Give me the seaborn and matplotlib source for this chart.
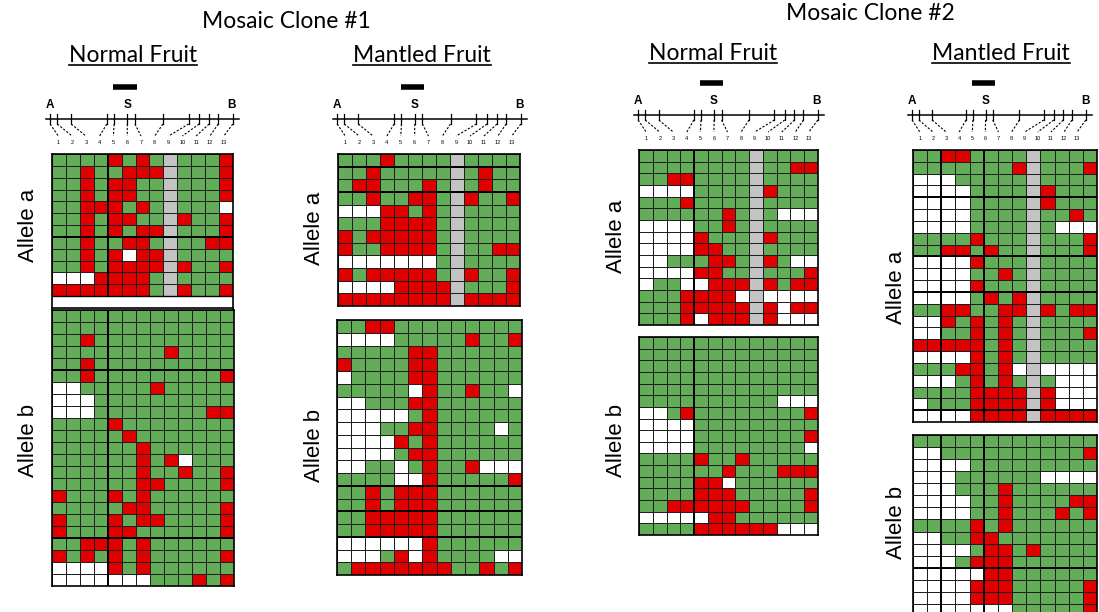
import numpy as np
import matplotlib
matplotlib.use('Agg')
import matplotlib.pyplot as plt
from matplotlib.colors import ListedColormap
from matplotlib.lines import Line2D
import seaborn as sns

# Bisulfite clone data, one string per clone, one letter per CpG site (1..13)
# G = unmethylated, R = methylated, W = no data, X = site not analysed
clone1_normal_a = [
    "GGGGRGRGXGGGR", "GGRGGRRRXGGGR", "GGRGRRGGXGGGR", "GGRGRRGGXGGGR",
    "GGRRRGRGXGGGW", "GGRGRRGGXRGGR", "GGRGRGRRXGGGR", "GGRGGRRGXGGRR",
    "GGRGRWRRXGGGG", "GGRGRRRRXRGGR", "WWWRRRRGXGGGG", "RRRRRRRGXRGGR",
]
clone1_normal_b = [
    "GGGGGGGGGGGGG", "GGGGGGGGGGGGG", "GGRGGGGGGGGGG", "GGGGGGGGRGGGG",
    "GGRGGGGGGGGGG", "GGRGGGGGGGGGR", "WWGGGGGRGGGGG", "WWWGGGGGGGGGG",
    "WWWGGGGGGGGRR", "GGGGRGGGGGGGG", "GGGGGRGGGGGGG", "GGGGGGRGGGGGG",
    "GGGGGGRGRWGGG", "GGGGGGRGGRGGR", "GGGGGGRRGGGGR", "RGGGRGRGGGGGG",
    "GGGGGRRGGGGGR", "RGGGRGRRGGGGR", "RGGGRRGGGGGGR", "GGRRRGRGGGGGG",
    "RGRGRGRGGGGGR", "WWWWRGRGGGGGG", "WWWWWWWGGGRGR",
]
clone1_mantled_a = [
    "GGGRGGGGXGGGG", "GGRGGGGGXGRGG", "GRRGGGRGXGRGG", "GGRGGRRGXRGGR",
    "WWWRRGRGXGGGG", "GGGRRRRGXGGGG", "RGRRRRRGXGGGG", "RGGRRRRGXGGRR",
    "WWWWWWWGXGGGG", "RGRRRRRGXRGGR", "WWWWRRRRXGGGR", "RRRRRRRRXRRRR",
]
clone1_mantled_b = [
    "GGRRGGGGGGGGG", "WWWWGGGGGRGGR", "GGGGGRRGGGGGG", "RGGGGRRGGGGGG",
    "WGGGGRRGGGGGG", "GGGGGWRGGRGGW", "WWGGGRRGGGGGG", "WWWWWGRGGGGGG",
    "WWWGGRRGGGGWG", "WWWWRGRGGGGGG", "WWWWGRRGGGGGG", "WWGGWGRGGRWWW",
    "GGGGWWRGGGGGR", "GGRGRRRGGGGGG", "GGRGRRRGGGGGG", "GGRRRRRGGGGGG",
    "GGRRRRRGGGGGG", "WWWWWWRGGGGGG", "WWWGRWRGGGGWW", "GRRRRRRRGGRGR",
]
clone2_normal_a = [
    "GGGGGGGGXGGGG", "GGGGGGGGXGGRR", "GGRRGGGGXGGGG", "WWWWGGGGXRGGG",
    "GGGRGGGGXGGGG", "GGGGGGRGXGWWW", "WWWWGGRGXGGGG", "WWWWRGGGXRGGG",
    "WWWWRRGGXGGGG", "WWGGGRRGXRGWW", "WWWWRRGGXGGGR", "WGGWWRRRXRGRR",
    "GGGRRRRWXWWWW", "GGGRRRRRXRWRR", "GGGRWRRRXRWWW",
]
clone2_normal_b = [
    "GGGGGGGGGGGGG", "GGGGGGGGGGGGG", "GGGGGGGGGGGGG", "GGGGGGGGGGGGG",
    "GGGGGGGGGGGGG", "GGGGGGGGGGWWW", "WWGRGGGGGGGGR", "WWWWGGGGGGGGG",
    "WWWWGGGGGGGGR", "WWWWGGGGGGGGW", "GGGGRGGRGGGGG", "GGGGGGRGGGRRR",
    "GGGGRRWGGGGGG", "GGGGRRRGGGGGR", "GGRRRRRRGGGGR", "WWWWWRRGGGGGG",
    "GGGGRRRRRRWWW",
]
clone2_mantled_a = [
    "GGRRGGGGXGGGG", "GGGGGGGRXGGGR", "WWWGGGGGXGGGG", "WWWWGGGGXRGGG",
    "WWWWGGGGXRGGG", "WWWWGGGGXGGRG", "WWWWGGGGXGWWW", "GGGGRGGGXGGGR",
    "GGRRGRGGXGGGR", "WWWWRGGGXGGGG", "WWWWGGRGXGGGG", "WWWWRGGGXGGGG",
    "WWWWGRGRXGGGG", "GGRRGGRRXRGRR", "WWRGRGRGXGGGG", "WWGGRGRGXGGGR",
    "RRRRRGRGXGGGG", "WWWWRGRGXGGGG", "GGGRRGRWXWWWW", "WWWGRGRGXGWWW",
    "GGGGRRRRXRWWW", "WGGGRRRRXRWWW", "WWWWRRRRXRRRR",
]
clone2_mantled_b = [
    "GGGGGGGGGGGGG", "WWGGGGGGGGGGR", "WWWWGGGGGGGGG", "WWWGGGGGGWWWW",
    "WWWGGGRGGGGGG", "WWWWGGRGGGGRR", "WWWWGGRGGGRGR", "GGGGRGRGGGGGG",
    "WWGGRRGGGGGGG", "WWWWGRRGRGGGG", "WWWGRRRGGGGGG", "WWWWWRRGGGGGG",
    "WWWWRRRGGGGGR", "WWWWRRRGGGGGR", "WWWWWWWGGGGGR",
]

# CpG map above each panel (positions in column units)
site_labels = [str(i) for i in range(1, 14)]
site_pos = [-0.19, 0.33, 1.34, 3.92, 4.45, 5.41, 5.96, 7.99, 9.86, 10.62, 11.34, 12.0, 13.06]
landmarks = ["A", "S", "B"]
landmark_pos = [-0.2, 5.4, 13.0]
probe_span = [4.4, 6.1]

code = {"G": 0, "R": 1, "W": 2, "X": 3}
cmap = ListedColormap(["#63ad58", "#e00000", "#ffffff", "#c3c3c3"])

W, H = 1099, 612
fig = plt.figure(figsize=(W / 100, H / 100), dpi=100)
fig.patch.set_facecolor("white")


def px_axes(x0, y0, x1, y1):
    # axes from pixel box (origin top-left)
    return fig.add_axes([x0 / W, 1 - y1 / H, (x1 - x0) / W, (y1 - y0) / H])


def to_matrix(rows):
    return np.array([[code[c] for c in r] for r in rows])


def draw_grid(rows, box, hsep=(), vsep=(), extra_rows=0):
    ax = px_axes(*box)
    mat = to_matrix(rows)
    n = len(rows)
    sns.heatmap(mat, cmap=cmap, vmin=-0.5, vmax=3.5, cbar=False,
                linewidths=0.6, linecolor="#1e1e1e", xticklabels=False,
                yticklabels=False, ax=ax)
    ax.set_ylim(n + extra_rows, 0)
    if hsep:
        ax.hlines(hsep, 0, 13, color="black", lw=1.4)
    if vsep:
        ax.vlines(vsep, 0, n, color="black", lw=1.4)
    if extra_rows:
        ax.axhline(n, color="black", lw=1.0)
    for s in ax.spines.values():
        s.set_visible(True)
        s.set_color("black")
        s.set_linewidth(1.2)
    return ax


def draw_map(ax_px, bx_px, top):
    # gene map: landmarks, CpG ticks, dashed leaders and site numbers
    s = (bx_px - ax_px) / 13.2
    ax = px_axes(ax_px - 0.8 * s, top - 75, bx_px + 1.0 * s, top)
    ax.set_xlim(-1, 14)
    ax.set_ylim(0, 75)
    ax.axis("off")
    ax.plot([-0.5, 13.5], [35, 35], color="black", lw=1.1)
    ax.plot(probe_span, [67, 67], color="black", lw=4, solid_capstyle="butt")
    for lab, p in zip(landmarks, landmark_pos):
        ax.text(p, 49, lab, ha="center", va="center", fontsize=8.5,
                fontweight="bold", family="Liberation Sans")
    for i, (lab, p) in enumerate(zip(site_labels, site_pos)):
        ax.plot([p, p], [30, 40], color="black", lw=0.9)
        ax.plot([p, i + 0.4], [30, 18], color="black", lw=0.8, ls=(0, (2, 1.5)))
        ax.text(i + 0.4, 12, lab, ha="center", va="center", fontsize=4,
                family="Liberation Sans")


panels = [
    (clone1_normal_a, (52, 154, 233, 308), [7], [4], 1),
    (clone1_normal_b, (52, 310, 234, 586), [5, 19], [4], 0),
    (clone1_mantled_a, (338, 154, 520, 306), [1, 3], [], 0),
    (clone1_mantled_b, (337, 320, 522, 575), [13, 15, 17], [], 0),
    (clone2_normal_a, (639, 150, 818, 325), [], [4], 0),
    (clone2_normal_b, (639, 337, 818, 535), [], [4], 0),
    (clone2_mantled_a, (913, 150, 1097, 422), [4, 9, 12, 22], [2, 5], 0),
    (clone2_mantled_b, (913, 435, 1097, 616), [11], [2, 5], 0),
]
for rows, box, hs, vs, extra in panels:
    draw_grid(rows, box, hs, vs, extra)

# map anchors: pixel x of A and B, grid top
for a_x, b_x, top in [(50, 232, 154), (337, 520, 154), (638, 817, 150), (912, 1085, 150)]:
    draw_map(a_x, b_x, top)

# allele labels
allele_labels = [("Allele a", 28, 225), ("Allele b", 28, 440),
                 ("Allele a", 314, 228), ("Allele b", 314, 445),
                 ("Allele a", 616, 236), ("Allele b", 616, 440),
                 ("Allele a", 896, 287), ("Allele b", 896, 522)]
for lab, x, y in allele_labels:
    fig.text(x / W, 1 - y / H, lab, rotation=90, ha="center", va="center",
             fontsize=16, family="Liberation Sans")

# titles
fig.text(286 / W, 1 - 22 / H, "Mosaic Clone #1", ha="center", va="center",
         fontsize=16.5, family="Lato")
fig.text(870 / W, 1 - 14 / H, "Mosaic Clone #2", ha="center", va="center",
         fontsize=16.5, family="Lato")
subtitles = [("Normal Fruit", 133, 56), ("Mantled Fruit", 422, 56),
             ("Normal Fruit", 713, 54), ("Mantled Fruit", 1001, 54)]
texts = []
for lab, x, y in subtitles:
    texts.append(fig.text(x / W, 1 - y / H, lab, ha="center", va="center",
                          fontsize=16.5, family="Lato"))

# underline the fruit headings
fig.canvas.draw()
r = fig.canvas.get_renderer()
for t in texts:
    bb = t.get_window_extent(r)
    yl = (bb.y0 + 2) / H
    fig.add_artist(Line2D([bb.x0 / W, bb.x1 / W], [yl, yl], color="black", lw=1.2))

fig.savefig("out.png", dpi=100)
